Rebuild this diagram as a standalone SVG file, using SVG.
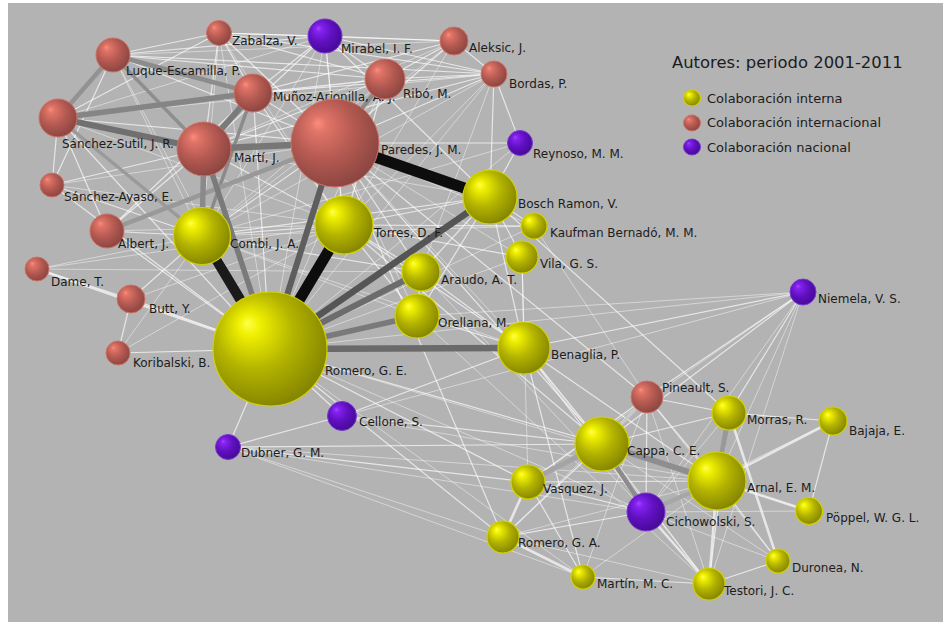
<svg xmlns="http://www.w3.org/2000/svg" width="943" height="622" viewBox="0 0 943 622">
<defs>
<radialGradient id="gy" cx="0.42" cy="0.4" r="0.62" fx="0.3" fy="0.27">
<stop offset="0" stop-color="#ffff4d"/><stop offset="0.15" stop-color="#f0f000"/><stop offset="0.55" stop-color="#b3b300"/><stop offset="1" stop-color="#848400"/>
</radialGradient>
<radialGradient id="gr" cx="0.42" cy="0.4" r="0.62" fx="0.3" fy="0.27">
<stop offset="0" stop-color="#ff8c7c"/><stop offset="0.15" stop-color="#e07468"/><stop offset="0.55" stop-color="#b55a52"/><stop offset="1" stop-color="#8a4540"/>
</radialGradient>
<radialGradient id="gp" cx="0.42" cy="0.4" r="0.62" fx="0.3" fy="0.27">
<stop offset="0" stop-color="#a844ff"/><stop offset="0.15" stop-color="#8422f0"/><stop offset="0.55" stop-color="#6010c0"/><stop offset="1" stop-color="#460a96"/>
</radialGradient>
<style>
.y{fill:url(#gy);stroke:#d2d200;stroke-width:1.2}
.r{fill:url(#gr);stroke:#cc7268;stroke-width:1}
.p{fill:url(#gp);stroke:#7a36d0;stroke-width:1}
text{font-family:"DejaVu Sans","Liberation Sans",sans-serif;fill:#1c1c1c}
.lb{font-size:12px}
.e0 line{stroke:#ffffff;stroke-width:1;stroke-opacity:.45}
.e1 line{stroke:#ffffff;stroke-width:1.2;stroke-opacity:.68}
.e2 line{stroke:#f2f2f2;stroke-width:2.6;stroke-opacity:.8}
line{stroke-linecap:butt}
</style>
</defs>
<rect x="0" y="0" width="943" height="622" fill="#ffffff"/>
<rect x="8" y="3" width="935" height="619" fill="#b3b3b3"/>
<g id="connectors">
<g class="e0">
<line x1="219" y1="33" x2="202" y2="236"/><line x1="219" y1="33" x2="270" y2="349"/><line x1="219" y1="33" x2="344" y2="225"/>
<line x1="113" y1="55" x2="454" y2="41"/><line x1="113" y1="55" x2="202" y2="236"/><line x1="113" y1="55" x2="270" y2="349"/>
<line x1="325" y1="36" x2="58" y2="118"/><line x1="325" y1="36" x2="202" y2="236"/><line x1="325" y1="36" x2="270" y2="349"/><line x1="325" y1="36" x2="344" y2="225"/>
<line x1="454" y1="41" x2="204" y2="149"/><line x1="454" y1="41" x2="270" y2="349"/><line x1="454" y1="41" x2="202" y2="236"/>
<line x1="494" y1="74" x2="58" y2="118"/><line x1="494" y1="74" x2="270" y2="349"/><line x1="494" y1="74" x2="202" y2="236"/><line x1="494" y1="74" x2="344" y2="225"/><line x1="494" y1="74" x2="421" y2="272"/>
<line x1="385" y1="79" x2="58" y2="118"/><line x1="385" y1="79" x2="202" y2="236"/><line x1="385" y1="79" x2="270" y2="349"/>
<line x1="58" y1="118" x2="344" y2="225"/><line x1="204" y1="149" x2="490" y2="197"/>
<line x1="335" y1="143" x2="52" y2="185"/><line x1="335" y1="143" x2="417" y2="316"/><line x1="335" y1="143" x2="524" y2="348"/><line x1="335" y1="143" x2="522" y2="257"/><line x1="335" y1="143" x2="534" y2="226"/>
<line x1="520" y1="143" x2="270" y2="349"/><line x1="520" y1="143" x2="202" y2="236"/>
<line x1="52" y1="185" x2="344" y2="225"/><line x1="107" y1="231" x2="344" y2="225"/>
<line x1="37" y1="269" x2="202" y2="236"/><line x1="37" y1="269" x2="344" y2="225"/><line x1="37" y1="269" x2="421" y2="272"/>
<line x1="131" y1="299" x2="344" y2="225"/><line x1="118" y1="353" x2="202" y2="236"/><line x1="118" y1="353" x2="344" y2="225"/>
<line x1="534" y1="226" x2="270" y2="349"/><line x1="534" y1="226" x2="202" y2="236"/>
<line x1="522" y1="257" x2="270" y2="349"/><line x1="522" y1="257" x2="528" y2="482"/>
<line x1="202" y1="236" x2="417" y2="316"/><line x1="202" y1="236" x2="524" y2="348"/>
<line x1="342" y1="416" x2="717" y2="481"/>
<line x1="228" y1="447" x2="717" y2="481"/><line x1="228" y1="447" x2="646" y2="512"/><line x1="228" y1="447" x2="503" y2="537"/><line x1="228" y1="447" x2="583" y2="577"/>
<line x1="803" y1="292" x2="417" y2="316"/><line x1="803" y1="292" x2="270" y2="349"/><line x1="803" y1="292" x2="342" y2="416"/><line x1="803" y1="292" x2="528" y2="482"/><line x1="803" y1="292" x2="717" y2="481"/><line x1="803" y1="292" x2="646" y2="512"/><line x1="803" y1="292" x2="709" y2="584"/>
<line x1="647" y1="397" x2="709" y2="584"/><line x1="647" y1="397" x2="583" y2="577"/><line x1="647" y1="397" x2="503" y2="537"/><line x1="647" y1="397" x2="778" y2="561"/>
<line x1="729" y1="413" x2="646" y2="512"/><line x1="833" y1="421" x2="646" y2="512"/>
<line x1="602" y1="444" x2="778" y2="561"/><line x1="602" y1="444" x2="809" y2="511"/>
<line x1="717" y1="481" x2="583" y2="577"/><line x1="717" y1="481" x2="503" y2="537"/>
<line x1="646" y1="512" x2="778" y2="561"/><line x1="503" y1="537" x2="709" y2="584"/><line x1="809" y1="511" x2="646" y2="512"/>
<line x1="270" y1="349" x2="717" y2="481"/><line x1="270" y1="349" x2="646" y2="512"/><line x1="270" y1="349" x2="583" y2="577"/>
<line x1="524" y1="348" x2="709" y2="584"/><line x1="421" y1="272" x2="646" y2="512"/><line x1="417" y1="316" x2="709" y2="584"/><line x1="534" y1="226" x2="647" y2="397"/>
</g>
<g class="e1">
<line x1="219" y1="33" x2="113" y2="55"/><line x1="219" y1="33" x2="325" y2="36"/><line x1="219" y1="33" x2="454" y2="41"/><line x1="219" y1="33" x2="494" y2="74"/><line x1="219" y1="33" x2="385" y2="79"/><line x1="219" y1="33" x2="253" y2="93"/><line x1="219" y1="33" x2="204" y2="149"/><line x1="219" y1="33" x2="335" y2="143"/><line x1="219" y1="33" x2="58" y2="118"/>
<line x1="113" y1="55" x2="325" y2="36"/><line x1="113" y1="55" x2="494" y2="74"/><line x1="113" y1="55" x2="385" y2="79"/><line x1="113" y1="55" x2="335" y2="143"/><line x1="113" y1="55" x2="52" y2="185"/>
<line x1="325" y1="36" x2="454" y2="41"/><line x1="325" y1="36" x2="494" y2="74"/><line x1="325" y1="36" x2="385" y2="79"/><line x1="325" y1="36" x2="253" y2="93"/><line x1="325" y1="36" x2="204" y2="149"/><line x1="325" y1="36" x2="335" y2="143"/><line x1="325" y1="36" x2="490" y2="197"/>
<line x1="454" y1="41" x2="494" y2="74"/><line x1="454" y1="41" x2="385" y2="79"/><line x1="454" y1="41" x2="253" y2="93"/><line x1="454" y1="41" x2="335" y2="143"/>
<line x1="494" y1="74" x2="385" y2="79"/><line x1="494" y1="74" x2="253" y2="93"/><line x1="494" y1="74" x2="335" y2="143"/><line x1="494" y1="74" x2="204" y2="149"/><line x1="494" y1="74" x2="490" y2="197"/><line x1="494" y1="74" x2="520" y2="143"/>
<line x1="385" y1="79" x2="253" y2="93"/><line x1="385" y1="79" x2="204" y2="149"/><line x1="385" y1="79" x2="344" y2="225"/>
<line x1="253" y1="93" x2="335" y2="143"/><line x1="253" y1="93" x2="270" y2="349"/><line x1="253" y1="93" x2="344" y2="225"/><line x1="253" y1="93" x2="107" y2="231"/>
<line x1="58" y1="118" x2="335" y2="143"/><line x1="58" y1="118" x2="52" y2="185"/><line x1="58" y1="118" x2="270" y2="349"/><line x1="58" y1="118" x2="107" y2="231"/>
<line x1="204" y1="149" x2="52" y2="185"/><line x1="204" y1="149" x2="107" y2="231"/><line x1="204" y1="149" x2="344" y2="225"/>
<line x1="335" y1="143" x2="202" y2="236"/><line x1="335" y1="143" x2="344" y2="225"/><line x1="335" y1="143" x2="520" y2="143"/><line x1="335" y1="143" x2="421" y2="272"/>
<line x1="520" y1="143" x2="490" y2="197"/>
<line x1="52" y1="185" x2="202" y2="236"/><line x1="52" y1="185" x2="270" y2="349"/>
<line x1="107" y1="231" x2="202" y2="236"/><line x1="107" y1="231" x2="270" y2="349"/>
<line x1="37" y1="269" x2="131" y2="299"/>
<line x1="131" y1="299" x2="270" y2="349"/><line x1="131" y1="299" x2="202" y2="236"/>
<line x1="118" y1="353" x2="270" y2="349"/><line x1="118" y1="353" x2="131" y2="299"/>
<line x1="490" y1="197" x2="534" y2="226"/><line x1="490" y1="197" x2="522" y2="257"/><line x1="490" y1="197" x2="344" y2="225"/><line x1="490" y1="197" x2="202" y2="236"/><line x1="490" y1="197" x2="421" y2="272"/><line x1="490" y1="197" x2="417" y2="316"/><line x1="490" y1="197" x2="524" y2="348"/><line x1="490" y1="197" x2="729" y2="413"/>
<line x1="534" y1="226" x2="344" y2="225"/>
<line x1="522" y1="257" x2="524" y2="348"/><line x1="522" y1="257" x2="344" y2="225"/>
<line x1="344" y1="225" x2="421" y2="272"/><line x1="344" y1="225" x2="417" y2="316"/><line x1="344" y1="225" x2="524" y2="348"/><line x1="344" y1="225" x2="202" y2="236"/>
<line x1="202" y1="236" x2="421" y2="272"/>
<line x1="421" y1="272" x2="417" y2="316"/><line x1="421" y1="272" x2="524" y2="348"/><line x1="417" y1="316" x2="524" y2="348"/>
<line x1="270" y1="349" x2="342" y2="416"/><line x1="270" y1="349" x2="228" y2="447"/>
<line x1="342" y1="416" x2="524" y2="348"/><line x1="342" y1="416" x2="602" y2="444"/>
<line x1="228" y1="447" x2="602" y2="444"/><line x1="228" y1="447" x2="528" y2="482"/><line x1="228" y1="447" x2="342" y2="416"/>
<line x1="803" y1="292" x2="524" y2="348"/><line x1="803" y1="292" x2="602" y2="444"/><line x1="803" y1="292" x2="729" y2="413"/><line x1="803" y1="292" x2="647" y2="397"/>
<line x1="647" y1="397" x2="729" y2="413"/><line x1="647" y1="397" x2="717" y2="481"/><line x1="647" y1="397" x2="528" y2="482"/><line x1="647" y1="397" x2="646" y2="512"/>
<line x1="729" y1="413" x2="602" y2="444"/><line x1="729" y1="413" x2="833" y2="421"/><line x1="729" y1="413" x2="709" y2="584"/>
<line x1="833" y1="421" x2="809" y2="511"/>
<line x1="602" y1="444" x2="709" y2="584"/><line x1="602" y1="444" x2="503" y2="537"/>
<line x1="717" y1="481" x2="778" y2="561"/><line x1="717" y1="481" x2="528" y2="482"/>
<line x1="528" y1="482" x2="646" y2="512"/><line x1="528" y1="482" x2="583" y2="577"/>
<line x1="646" y1="512" x2="503" y2="537"/>
<line x1="583" y1="577" x2="709" y2="584"/><line x1="709" y1="584" x2="778" y2="561"/>
<line x1="270" y1="349" x2="602" y2="444"/><line x1="270" y1="349" x2="528" y2="482"/><line x1="270" y1="349" x2="503" y2="537"/>
<line x1="335" y1="143" x2="647" y2="397"/><line x1="335" y1="143" x2="602" y2="444"/><line x1="335" y1="143" x2="503" y2="537"/>
<line x1="524" y1="348" x2="602" y2="444"/><line x1="524" y1="348" x2="717" y2="481"/><line x1="524" y1="348" x2="646" y2="512"/><line x1="524" y1="348" x2="583" y2="577"/>
<line x1="344" y1="225" x2="602" y2="444"/>
</g>
<g class="e2">
<line x1="37" y1="269" x2="270" y2="349"/>
<line x1="647" y1="397" x2="602" y2="444"/><line x1="729" y1="413" x2="778" y2="561"/><line x1="833" y1="421" x2="717" y2="481"/>
<line x1="717" y1="481" x2="809" y2="511"/><line x1="717" y1="481" x2="709" y2="584"/><line x1="528" y1="482" x2="503" y2="537"/>
<line x1="646" y1="512" x2="709" y2="584"/><line x1="503" y1="537" x2="583" y2="577"/>
</g>
<g id="strong">
<line x1="58" y1="118" x2="202" y2="236" stroke="#9a9a9a" stroke-width="3.5"/>
<line x1="113" y1="55" x2="204" y2="149" stroke="#8e8e8e" stroke-width="3.5"/>
<line x1="253" y1="93" x2="202" y2="236" stroke="#8a8a8a" stroke-width="3.5"/>
<line x1="107" y1="231" x2="335" y2="143" stroke="#999999" stroke-width="4.5"/>
<line x1="385" y1="79" x2="335" y2="143" stroke="#8a8a8a" stroke-width="4"/>
<line x1="113" y1="55" x2="253" y2="93" stroke="#8c8c8c" stroke-width="4.5"/>
<line x1="113" y1="55" x2="58" y2="118" stroke="#929292" stroke-width="4.5"/>
<line x1="58" y1="118" x2="253" y2="93" stroke="#858585" stroke-width="5.5"/>
<line x1="58" y1="118" x2="204" y2="149" stroke="#707070" stroke-width="6"/>
<line x1="204" y1="149" x2="253" y2="93" stroke="#7a7a7a" stroke-width="6"/>
<line x1="204" y1="149" x2="335" y2="143" stroke="#777777" stroke-width="6.5"/>
<line x1="204" y1="149" x2="202" y2="236" stroke="#8a8a8a" stroke-width="5.5"/>
<line x1="204" y1="149" x2="270" y2="349" stroke="#7a7a7a" stroke-width="5.5"/>
<line x1="270" y1="349" x2="335" y2="143" stroke="#5e5e5e" stroke-width="6"/>
<line x1="270" y1="349" x2="490" y2="197" stroke="#555555" stroke-width="6.5"/>
<line x1="270" y1="349" x2="421" y2="272" stroke="#6c6c6c" stroke-width="6"/>
<line x1="270" y1="349" x2="417" y2="316" stroke="#7a7a7a" stroke-width="5.5"/>
<line x1="270" y1="349" x2="524" y2="348" stroke="#6a6a6a" stroke-width="6.5"/>
<line x1="270" y1="349" x2="202" y2="236" stroke="#1a1a1a" stroke-width="10"/>
<line x1="270" y1="349" x2="344" y2="225" stroke="#0d0d0d" stroke-width="11"/>
<line x1="335" y1="143" x2="490" y2="197" stroke="#0d0d0d" stroke-width="11"/>
<line x1="647" y1="397" x2="602" y2="444" stroke="#c8c8c8" stroke-width="3"/>
<line x1="602" y1="444" x2="528" y2="482" stroke="#a4a4a4" stroke-width="5"/>
<line x1="602" y1="444" x2="646" y2="512" stroke="#8c8c8c" stroke-width="4.5"/>
<line x1="717" y1="481" x2="646" y2="512" stroke="#a6a6a6" stroke-width="4.5"/>
<line x1="717" y1="481" x2="729" y2="413" stroke="#999999" stroke-width="5"/>
<line x1="602" y1="444" x2="717" y2="481" stroke="#8e8e8e" stroke-width="6"/>
</g>
</g>
<g id="n-zabalza"><circle class="r" cx="219" cy="33" r="12.5"/><text class="lb" x="232" y="45">Zabalza, V.</text></g>
<g id="n-luque"><circle class="r" cx="113" cy="55" r="17"/><text class="lb" x="126" y="75">Luque-Escamilla, P.</text></g>
<g id="n-mirabel"><circle class="p" cx="325" cy="36" r="17"/><text class="lb" x="341" y="53">Mirabel, I. F.</text></g>
<g id="n-aleksic"><circle class="r" cx="454" cy="41" r="14"/><text class="lb" x="469" y="52">Aleksic, J.</text></g>
<g id="n-bordas"><circle class="r" cx="494" cy="74" r="13"/><text class="lb" x="509" y="88">Bordas, P.</text></g>
<g id="n-munoz"><circle class="r" cx="253" cy="93" r="19"/><text class="lb" x="273" y="101">Muñoz-Arjonilla, A. J.</text></g>
<g id="n-ribo"><circle class="r" cx="385" cy="79" r="20"/><text class="lb" x="403" y="98">Ribó, M.</text></g>
<g id="n-sanchez-sutil"><circle class="r" cx="58" cy="118" r="19"/><text class="lb" x="62" y="148">Sánchez-Sutil, J. R.</text></g>
<g id="n-marti"><circle class="r" cx="204" cy="149" r="27"/><text class="lb" x="234" y="162">Martí, J.</text></g>
<g id="n-paredes"><circle class="r" cx="335" cy="143" r="44"/><text class="lb" x="381" y="154">Paredes, J. M.</text></g>
<g id="n-reynoso"><circle class="p" cx="520" cy="143" r="12.5"/><text class="lb" x="533" y="158">Reynoso, M. M.</text></g>
<g id="n-sanchez-ayaso"><circle class="r" cx="52" cy="185" r="12"/><text class="lb" x="64" y="201">Sánchez-Ayaso, E.</text></g>
<g id="n-bosch"><circle class="y" cx="490" cy="197" r="27"/><text class="lb" x="518" y="208">Bosch Ramon, V.</text></g>
<g id="n-kaufman"><circle class="y" cx="534" cy="226" r="13"/><text class="lb" x="550" y="237">Kaufman Bernadó, M. M.</text></g>
<g id="n-albert"><circle class="r" cx="107" cy="231" r="17"/><text class="lb" x="118" y="248">Albert, J.</text></g>
<g id="n-combi"><circle class="y" cx="202" cy="236" r="28.5"/><text class="lb" x="230" y="248">Combi, J. A.</text></g>
<g id="n-torres"><circle class="y" cx="344" cy="225" r="29"/><text class="lb" x="374" y="237">Torres, D. F.</text></g>
<g id="n-vila"><circle class="y" cx="522" cy="257" r="16"/><text class="lb" x="540" y="268">Vila, G. S.</text></g>
<g id="n-dame"><circle class="r" cx="37" cy="269" r="12"/><text class="lb" x="51" y="286">Dame, T.</text></g>
<g id="n-araudo"><circle class="y" cx="421" cy="272" r="19"/><text class="lb" x="441" y="284">Araudo, A. T.</text></g>
<g id="n-butt"><circle class="r" cx="131" cy="299" r="14"/><text class="lb" x="149" y="313">Butt, Y.</text></g>
<g id="n-orellana"><circle class="y" cx="417" cy="316" r="22"/><text class="lb" x="438" y="327">Orellana, M.</text></g>
<g id="n-niemela"><circle class="p" cx="803" cy="292" r="13"/><text class="lb" x="818" y="303">Niemela, V. S.</text></g>
<g id="n-benaglia"><circle class="y" cx="524" cy="348" r="26"/><text class="lb" x="551" y="359">Benaglia, P.</text></g>
<g id="n-koribalski"><circle class="r" cx="118" cy="353" r="12"/><text class="lb" x="133" y="367">Koribalski, B.</text></g>
<g id="n-romero-ge"><circle class="y" cx="270" cy="349" r="57"/><text class="lb" x="325" y="375">Romero, G. E.</text></g>
<g id="n-cellone"><circle class="p" cx="342" cy="416" r="14.5"/><text class="lb" x="359" y="426">Cellone, S.</text></g>
<g id="n-pineault"><circle class="r" cx="647" cy="397" r="16"/><text class="lb" x="662" y="392">Pineault, S.</text></g>
<g id="n-morras"><circle class="y" cx="729" cy="413" r="17"/><text class="lb" x="747" y="424">Morras, R.</text></g>
<g id="n-bajaja"><circle class="y" cx="833" cy="421" r="14"/><text class="lb" x="849" y="435">Bajaja, E.</text></g>
<g id="n-dubner"><circle class="p" cx="228" cy="447" r="12.5"/><text class="lb" x="241" y="457">Dubner, G. M.</text></g>
<g id="n-cappa"><circle class="y" cx="602" cy="444" r="27"/><text class="lb" x="627" y="455">Cappa, C. E.</text></g>
<g id="n-vasquez"><circle class="y" cx="528" cy="482" r="17"/><text class="lb" x="543" y="493">Vasquez, J.</text></g>
<g id="n-arnal"><circle class="y" cx="717" cy="481" r="29"/><text class="lb" x="747" y="492">Arnal, E. M.</text></g>
<g id="n-cichowolski"><circle class="p" cx="646" cy="512" r="19"/><text class="lb" x="666" y="526">Cichowolski, S.</text></g>
<g id="n-poppel"><circle class="y" cx="809" cy="511" r="13.5"/><text class="lb" x="826" y="522">Pöppel, W. G. L.</text></g>
<g id="n-romero-ga"><circle class="y" cx="503" cy="537" r="16"/><text class="lb" x="518" y="547">Romero, G. A.</text></g>
<g id="n-duronea"><circle class="y" cx="778" cy="561" r="12"/><text class="lb" x="792" y="572">Duronea, N.</text></g>
<g id="n-martin"><circle class="y" cx="583" cy="577" r="12"/><text class="lb" x="597" y="588">Martín, M. C.</text></g>
<g id="n-testori"><circle class="y" cx="709" cy="584" r="16"/><text class="lb" x="724" y="595">Testori, J. C.</text></g>
<g id="legend">
<text x="672" y="68" font-size="16.4px">Autores: periodo 2001-2011</text>
<ellipse class="y" cx="692" cy="98" rx="8.5" ry="8" stroke-width="0.8"/>
<text x="707" y="102.5" font-size="13px">Colaboración interna</text>
<ellipse class="r" cx="692" cy="123" rx="8.5" ry="8" stroke-width="0.8"/>
<text x="707" y="127" font-size="13px">Colaboración internacional</text>
<ellipse class="p" cx="692" cy="147" rx="8.5" ry="8" stroke-width="0.8"/>
<text x="707" y="151.5" font-size="13px">Colaboración nacional</text>
</g>
</svg>
